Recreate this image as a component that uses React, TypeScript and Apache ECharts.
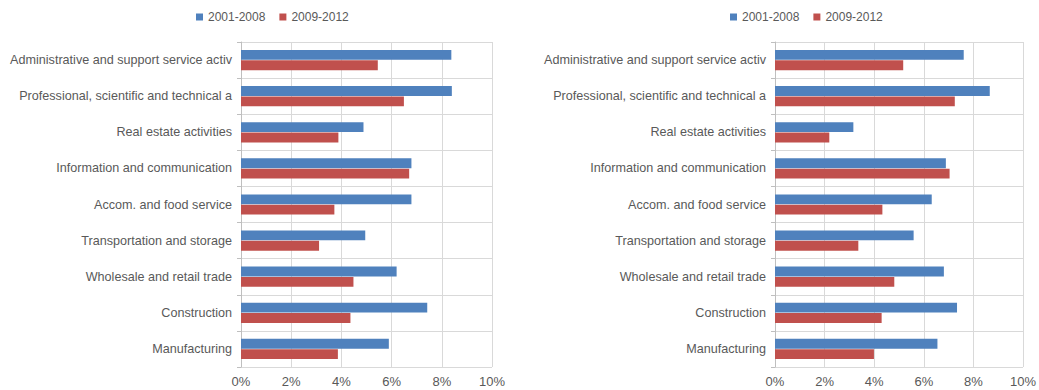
import React, { useEffect, useRef } from "react";
import * as echarts from "echarts";

const categories = [
  "Administrative and support service activ",
  "Professional, scientific and technical a",
  "Real estate activities",
  "Information and communication",
  "Accom. and food service",
  "Transportation and storage",
  "Wholesale and retail trade",
  "Construction",
  "Manufacturing",
];

const seriesNames = ["2001-2008", "2009-2012"];

const leftPeriod1 = [8.38, 8.4, 4.88, 6.79, 6.79, 4.95, 6.2, 7.42, 5.89];
const leftPeriod2 = [5.45, 6.49, 3.88, 6.7, 3.72, 3.11, 4.48, 4.36, 3.86];

const rightPeriod1 = [7.61, 8.66, 3.16, 6.89, 6.32, 5.59, 6.81, 7.34, 6.55];
const rightPeriod2 = [5.17, 7.25, 2.19, 7.04, 4.33, 3.36, 4.81, 4.3, 3.99];

const xTicks = { min: 0, max: 10, interval: 2 };

const BLUE = "#4F81BD";
const RED = "#C0504D";
const TEXT = "#595959";
const GRID = "#D9D9D9";
const FONT = "Liberation Sans, Arial, sans-serif";

export default function App() {
  const ref = useRef<HTMLDivElement>(null);
  useEffect(() => {
    document.body.style.margin = "0";
    const chart = echarts.init(ref.current!, undefined, { renderer: "svg" });
    const xAxis = (gridIndex: number) => ({
      type: "value",
      gridIndex,
      min: xTicks.min,
      max: xTicks.max,
      interval: xTicks.interval,
      axisLabel: { formatter: "{value}%", color: TEXT, fontSize: 13, fontFamily: FONT, margin: 8 },
      axisLine: { show: false },
      axisTick: { show: false },
      splitLine: { show: true, lineStyle: { color: GRID, width: 1 } },
    });
    const yAxis = (gridIndex: number) => ({
      type: "category",
      gridIndex,
      data: categories,
      inverse: true,
      axisLabel: { color: TEXT, fontSize: 12.6, fontFamily: FONT, margin: 9 },
      axisLine: { show: true, lineStyle: { color: "#BFBFBF" } },
      axisTick: { show: true, length: 4, lineStyle: { color: "#BFBFBF" } },
      splitLine: { show: true, lineStyle: { color: GRID, width: 1 } },
    });
    const bar = (name: string, data: number[], color: string, idx: number) => ({
      type: "bar",
      name,
      data,
      xAxisIndex: idx,
      yAxisIndex: idx,
      itemStyle: { color },
      barGap: "5%",
      barCategoryGap: "44%",
    });
    const legend = (left: number) => ({
      top: 6,
      left,
      data: seriesNames,
      icon: "rect",
      itemWidth: 7,
      itemHeight: 7,
      itemGap: 14,
      textStyle: { color: TEXT, fontSize: 12, fontFamily: FONT },
    });
    chart.setOption({
      animation: false,
      backgroundColor: "#ffffff",
      legend: [legend(191), legend(725)],
      grid: [
        { left: 241, right: 547, top: 42, bottom: 23 },
        { left: 775, right: 13, top: 42, bottom: 23 },
      ],
      xAxis: [xAxis(0), xAxis(1)],
      yAxis: [yAxis(0), yAxis(1)],
      series: [
        bar(seriesNames[0], leftPeriod1, BLUE, 0),
        bar(seriesNames[1], leftPeriod2, RED, 0),
        bar(seriesNames[0], rightPeriod1, BLUE, 1),
        bar(seriesNames[1], rightPeriod2, RED, 1),
      ],
    });
    return () => chart.dispose();
  }, []);
  return <div ref={ref} style={{ width: 1039, height: 390 }} />;
}
